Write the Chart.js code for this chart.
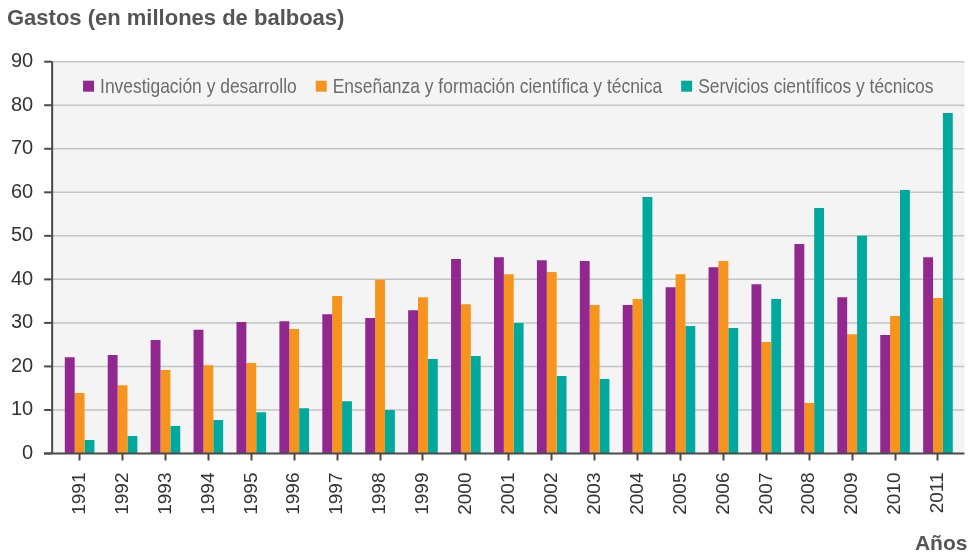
<!DOCTYPE html>
<html>
<head>
<meta charset="utf-8">
<script src="https://cdn.jsdelivr.net/npm/chart.js@4/dist/chart.umd.min.js"></script>
<style>
  html, body { margin: 0; padding: 0; background: #ffffff; }
  #wrap { width: 973px; height: 555px; position: relative; }
</style>
</head>
<body>
<div id="wrap"><canvas id="c" width="973" height="555"></canvas></div>
<script>
const titleText = 'Gastos (en millones de balboas)';
const xTitleText = 'Años';
const years = ['1991','1992','1993','1994','1995','1996','1997','1998','1999','2000','2001','2002','2003','2004','2005','2006','2007','2008','2009','2010','2011'];
const seriesNames = ['Investigación y desarrollo', 'Enseñanza y formación científica y técnica', 'Servicios científicos y técnicos'];
const idValues   = [22.1,22.6,26.1,28.4,30.2,30.4,32.0,31.1,32.9,44.7,45.1,44.4,44.2,34.1,38.2,42.8,38.9,48.1,35.9,27.2,45.1];
const ensValues  = [13.9,15.7,19.2,20.3,20.8,28.6,36.2,39.9,35.9,34.3,41.2,41.7,34.1,35.5,41.2,44.2,25.6,11.6,27.4,31.6,35.7];
const servValues = [3.1,4.0,6.3,7.7,9.5,10.4,12.0,10.0,21.7,22.4,30.0,17.8,17.1,58.9,29.3,28.8,35.5,56.4,50.0,60.5,78.2];
const yTickValues = [0,10,20,30,40,50,60,70,80,90];

const colors = ['#92278f', '#f7941d', '#00a99d'];
const regular = '"Liberation Sans", Arial, sans-serif';

const framePlugin = {
  id: 'frame',
  beforeDatasetsDraw(chart) {
    const ctx = chart.ctx;
    const ca = chart.chartArea;
    const y = chart.scales.y;
    const axisX = ca.left - 6;
    const rightX = ca.right + 5;
    const top = y.getPixelForValue(yTickValues[yTickValues.length - 1]);
    const bottom = y.getPixelForValue(0);
    ctx.save();
    ctx.fillStyle = '#f3f4f3';
    ctx.fillRect(axisX, top, rightX - axisX, bottom - top);
    ctx.strokeStyle = '#c3c5c5';
    ctx.lineWidth = 1.5;
    yTickValues.forEach(v => {
      if (v === 0) return;
      const py = y.getPixelForValue(v);
      ctx.beginPath();
      ctx.moveTo(axisX, py);
      ctx.lineTo(rightX, py);
      ctx.stroke();
    });
    ctx.restore();
  },
  afterDatasetsDraw(chart) {
    const ctx = chart.ctx;
    const ca = chart.chartArea;
    const y = chart.scales.y;
    const axisX = ca.left - 6;
    const rightX = ca.right + 5;
    const top = y.getPixelForValue(yTickValues[yTickValues.length - 1]);
    const bottom = y.getPixelForValue(0);
    ctx.save();
    ctx.strokeStyle = '#4a4a4a';
    ctx.lineWidth = 2;
    ctx.beginPath();
    ctx.moveTo(axisX, top);
    ctx.lineTo(axisX, bottom);
    ctx.stroke();
    yTickValues.forEach(v => {
      const py = y.getPixelForValue(v);
      ctx.beginPath();
      ctx.moveTo(axisX - 8, py);
      ctx.lineTo(axisX, py);
      ctx.stroke();
    });
    ctx.beginPath();
    ctx.moveTo(axisX - 8, bottom);
    ctx.lineTo(rightX, bottom);
    ctx.stroke();

    // legend inside the plot area (condensed text)
    const sx = 0.83;
    ctx.font = '21px ' + regular;
    ctx.textBaseline = 'middle';
    ctx.textAlign = 'left';
    const box = 11, gapText = 6, gapItem = 19;
    const ds = chart.data.datasets;
    let total = 0;
    ds.forEach((d, i) => {
      total += box + gapText + ctx.measureText(d.label).width * sx + (i < ds.length - 1 ? gapItem : 0);
    });
    let lx = (axisX + rightX) / 2 - total / 2;
    const ly = top + 24.5;
    ds.forEach((d) => {
      ctx.fillStyle = d.backgroundColor;
      ctx.fillRect(lx, ly - box / 2, box, box);
      lx += box + gapText;
      ctx.fillStyle = '#6b6b6b';
      ctx.save();
      ctx.translate(lx, ly + 1);
      ctx.scale(sx, 1);
      ctx.fillText(d.label, 0, 0);
      ctx.restore();
      lx += ctx.measureText(d.label).width * sx + gapItem;
    });

    // x axis title
    ctx.font = 'bold 21px ' + regular;
    ctx.fillStyle = '#555555';
    ctx.textAlign = 'right';
    ctx.textBaseline = 'alphabetic';
    ctx.fillText(xTitleText, rightX + 3, 550);
    ctx.restore();
  }
};

new Chart(document.getElementById('c'), {
  type: 'bar',
  data: {
    labels: years,
    datasets: [
      { label: seriesNames[0], data: idValues, backgroundColor: colors[0] },
      { label: seriesNames[1], data: ensValues, backgroundColor: colors[1] },
      { label: seriesNames[2], data: servValues, backgroundColor: colors[2] }
    ]
  },
  options: {
    responsive: false,
    animation: false,
    devicePixelRatio: 1,
    layout: { padding: { left: 7, right: 9.7, top: 0, bottom: 0 } },
    datasets: { bar: { categoryPercentage: 0.69, barPercentage: 1.0 } },
    plugins: {
      legend: { display: false },
      tooltip: { enabled: false },
      title: {
        display: true,
        text: titleText,
        align: 'start',
        color: '#555555',
        font: { family: regular, size: 22, weight: 'bold', lineHeight: 1.2 },
        padding: { top: 5.8, bottom: 29.5 }
      }
    },
    scales: {
      x: {
        afterFit(s) { s.height = 101.5; },
        grid: { display: true, drawOnChartArea: false, offset: false, tickLength: 7, tickColor: '#4a4a4a', tickWidth: 2 },
        border: { display: false },
        ticks: {
          minRotation: 90, maxRotation: 90, autoSkip: false, padding: 12,
          color: '#333333', font: { family: regular, size: 19 }
        }
      },
      y: {
        min: 0, max: 90,
        afterFit(s) { s.width = 51.15; },
        afterBuildTicks(s) { s.ticks = yTickValues.map(v => ({ value: v })); },
        grid: { display: false, drawTicks: false },
        border: { display: false },
        ticks: { padding: 25, color: '#333333', font: { family: regular, size: 20 } }
      }
    }
  },
  plugins: [framePlugin]
});
</script>
</body>
</html>
